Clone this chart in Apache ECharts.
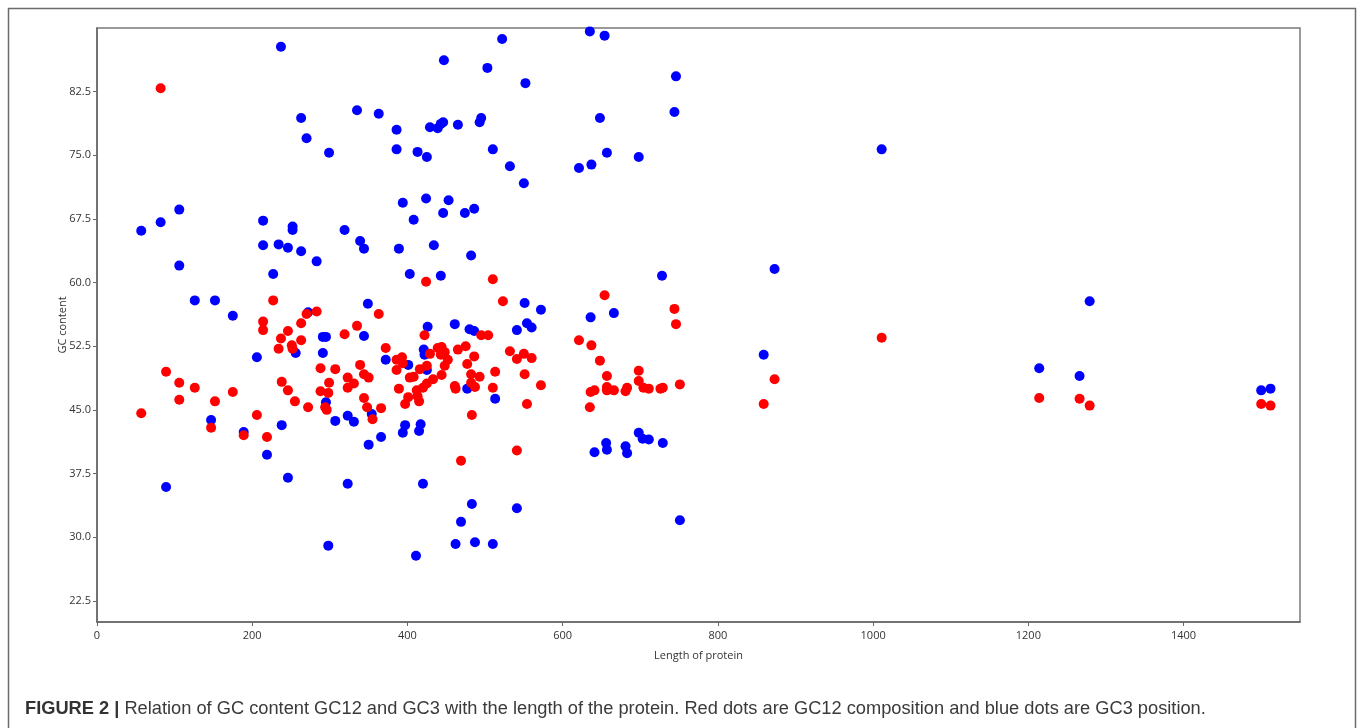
<!DOCTYPE html>
<html>
<head>
<meta charset="utf-8">
<title>GC content vs protein length</title>
<script src="https://cdn.jsdelivr.net/npm/echarts@6/dist/echarts.min.js"></script>
<style>
  html, body { margin: 0; padding: 0; background: #fff; }
  #chart { width: 1357px; height: 728px; }
</style>
</head>
<body>
<div id="chart"></div>
<script>
// Axis ticks
const xTicks = [0, 200, 400, 600, 800, 1000, 1200, 1400];
const yTicks = [22.5, 30.0, 37.5, 45.0, 52.5, 60.0, 67.5, 75.0, 82.5];

// GC3 content (blue): [length of protein, GC content]
const gc3 = [
  [57, 66.1], [82, 67.1], [106, 68.6], [106, 62.0], [126, 57.9], [152, 57.9], [175, 56.1],
  [214, 67.3], [214, 64.4], [234, 64.5], [246, 64.1], [252, 66.6], [252, 66.2], [263, 63.7],
  [283, 62.5], [227, 61.0], [263, 79.4], [270, 77.0], [237, 87.8],
  [522, 88.7], [447, 86.2], [503, 85.3], [552, 83.5], [335, 80.3], [363, 79.9], [386, 78.0],
  [429, 78.3], [439, 78.2], [443, 78.7], [446, 78.9], [465, 78.6], [495, 79.4], [493, 78.9],
  [299, 75.3], [386, 75.7], [413, 75.4], [425, 74.8], [510, 75.7], [532, 73.7], [550, 71.7],
  [394, 69.4], [424, 69.9], [453, 69.7], [408, 67.4], [446, 68.2], [474, 68.2], [486, 68.7],
  [319, 66.2], [339, 64.9], [344, 64.0], [389, 64.0], [434, 64.4], [482, 63.2], [403, 61.0],
  [443, 60.8], [349, 57.5], [551, 57.6], [572, 56.8],
  [635, 89.6], [654, 89.1], [746, 84.3], [744, 80.1], [648, 79.4], [657, 75.3], [698, 74.8],
  [637, 73.9], [621, 73.5], [728, 60.8], [636, 55.9], [666, 56.4],
  [426, 54.8], [461, 55.1], [480, 54.5], [486, 54.3], [541, 54.4], [554, 55.2], [560, 54.7],
  [291, 53.6], [295, 53.6], [344, 53.7], [291, 51.7], [372, 50.9], [401, 50.3], [421, 52.1],
  [422, 51.5], [425, 49.7], [477, 47.5], [513, 46.3], [295, 45.9], [354, 44.5], [307, 43.7],
  [323, 44.3], [331, 43.6], [397, 43.2], [394, 42.3], [417, 43.3], [415, 42.5], [366, 41.8],
  [350, 40.9], [323, 36.3], [420, 36.3], [483, 33.9], [469, 31.8], [462, 29.2], [487, 29.4],
  [510, 29.2], [298, 29.0], [411, 27.8], [541, 33.4],
  [256, 51.7], [206, 51.2], [147, 43.8], [189, 42.4], [238, 43.2], [219, 39.7], [246, 37.0],
  [89, 35.9], [272, 56.5],
  [698, 42.3], [703, 41.6], [711, 41.5], [729, 41.1], [656, 41.1], [657, 40.3], [641, 40.0],
  [681, 40.7], [683, 39.9], [751, 32.0],
  [859, 51.5], [873, 61.6], [1011, 75.7], [1214, 49.9], [1266, 49.0], [1279, 57.8],
  [1500, 47.3], [1512, 47.5]
];

// GC12 content (red): [length of protein, GC content]
const gc12 = [
  [82, 82.9], [57, 44.6], [89, 49.5], [106, 48.2], [106, 46.2], [126, 47.6], [152, 46.0],
  [147, 42.9], [175, 47.1], [189, 42.0], [206, 44.4], [219, 41.8],
  [227, 57.9], [283, 56.6], [270, 56.3], [214, 55.4], [263, 55.2],
  [214, 54.4], [246, 54.3], [237, 53.4], [263, 53.2], [251, 52.6], [252, 52.2], [234, 52.2],
  [288, 49.9], [238, 48.3], [246, 47.3], [255, 46.0], [272, 45.3], [288, 47.2],
  [424, 60.1], [510, 60.4], [523, 57.8], [363, 56.3], [335, 54.9],
  [654, 58.5], [744, 56.9], [746, 55.1],
  [319, 53.9], [422, 53.8], [372, 52.3], [439, 52.3], [444, 52.4], [429, 51.6], [443, 51.5],
  [448, 51.8], [465, 52.1], [475, 52.5], [486, 51.3], [495, 53.8], [504, 53.8], [532, 51.9],
  [541, 51.0], [550, 51.6], [560, 51.1], [386, 50.9], [393, 51.2], [394, 50.5], [452, 50.9],
  [477, 50.4], [307, 49.8], [339, 50.3], [344, 49.2], [350, 48.8], [386, 49.7], [416, 49.8],
  [425, 50.2], [448, 50.2], [444, 49.1], [482, 49.2], [493, 48.9], [513, 49.5], [551, 49.2],
  [299, 48.2], [323, 48.8], [331, 48.1], [323, 47.6], [298, 47.0], [389, 47.5], [403, 48.8],
  [408, 48.9], [412, 47.3], [420, 47.6], [425, 48.1], [433, 48.6], [461, 47.8], [462, 47.5],
  [482, 48.2], [487, 47.7], [510, 47.6], [572, 47.9], [344, 46.4], [401, 46.5], [397, 45.7],
  [413, 46.6], [415, 46.0], [294, 45.3], [296, 45.0], [348, 45.3], [366, 45.2], [355, 43.9],
  [483, 44.4], [554, 45.7], [469, 39.0], [541, 40.2],
  [621, 53.2], [637, 52.6], [648, 50.8], [657, 49.0], [698, 49.6], [698, 48.4], [704, 47.6],
  [711, 47.5], [683, 47.6], [681, 47.2], [666, 47.3], [657, 47.7], [657, 47.3], [641, 47.3],
  [636, 47.1], [635, 45.3], [726, 47.5], [729, 47.6], [751, 48.0],
  [859, 45.7], [873, 48.6], [1011, 53.5], [1214, 46.4], [1266, 46.3], [1279, 45.5],
  [1500, 45.7], [1512, 45.5]
];

const axisFont = 'Open Sans, DejaVu Sans, sans-serif';
const captionFont = 'Liberation Sans, Arial, sans-serif';
const chart = echarts.init(document.getElementById('chart'), null, { renderer: 'canvas' });

chart.setOption({
  animation: false,
  backgroundColor: '#ffffff',
  grid: {
    left: 97, top: 28, right: 57, bottom: 106,
    show: true, borderColor: '#7a7a7a', borderWidth: 1.5, backgroundColor: 'transparent'
  },
  xAxis: {
    type: 'value', min: 0, max: 1550,
    name: 'Length of protein', nameLocation: 'middle', nameGap: 28,
    nameTextStyle: { fontSize: 11, color: '#333', fontFamily: axisFont },
    axisLine: { show: true, onZero: false, lineStyle: { color: '#666', width: 1.5 } },
    axisTick: { show: true, inside: false, length: 4, customValues: xTicks, lineStyle: { color: '#666' } },
    axisLabel: {
      customValues: xTicks, fontSize: 11, color: '#333', fontFamily: axisFont, margin: 8,
      formatter: v => String(v)
    },
    splitLine: { show: false }
  },
  yAxis: {
    type: 'value', min: 20, max: 90,
    name: 'GC content', nameLocation: 'middle', nameGap: 29, nameRotate: 90,
    nameMoveOverlap: false,
    nameTextStyle: { fontSize: 11, color: '#333', fontFamily: axisFont },
    axisLine: { show: true, onZero: false, lineStyle: { color: '#666', width: 1.5 } },
    axisTick: { show: true, inside: false, length: 4, customValues: yTicks, lineStyle: { color: '#666' } },
    axisLabel: {
      customValues: yTicks, fontSize: 11, color: '#333', fontFamily: axisFont, margin: 6,
      formatter: v => Number(v).toFixed(1)
    },
    splitLine: { show: false }
  },
  series: [
    {
      name: 'GC3', type: 'scatter', data: gc3, symbolSize: 10,
      itemStyle: { color: '#0000ff', opacity: 1 }, z: 2
    },
    {
      name: 'GC12', type: 'scatter', data: gc12, symbolSize: 10,
      itemStyle: { color: '#ff0000', opacity: 1 }, z: 3
    }
  ],
  graphic: [
    {
      type: 'rect', silent: true, z: -1,
      shape: { x: 8.5, y: 8.5, width: 1347, height: 740 },
      style: { fill: 'none', stroke: '#6b6b6b', lineWidth: 1.5 }
    },
    {
      type: 'text', left: 25, top: 700,
      style: {
        text: '{b|FIGURE 2 |} Relation of GC content GC12 and GC3 with the length of the protein. Red dots are GC12 composition and blue dots are GC3 position.',
        rich: {
          b: { fontWeight: 'bold', fontSize: 18.25, fill: '#333', fontFamily: captionFont }
        },
        fontSize: 18.25, fill: '#3a3a3a', fontFamily: captionFont
      }
    }
  ]
});
</script>
</body>
</html>
